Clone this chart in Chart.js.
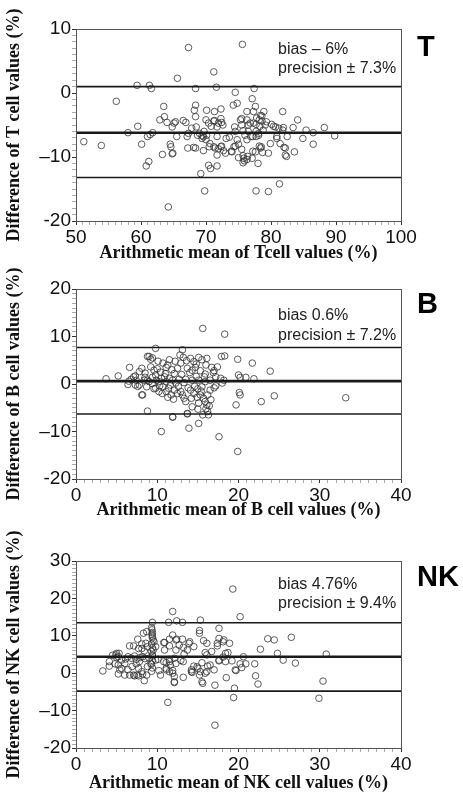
<!DOCTYPE html>
<html>
<head>
<meta charset="utf-8">
<script src="https://cdn.jsdelivr.net/npm/chart.js@4.4.1/dist/chart.umd.min.js"></script>
<style>
html, body { margin: 0; padding: 0; background: #fff; }
#wrap { position: relative; width: 463px; height: 799px; overflow: hidden; }
canvas { position: absolute; left: 0; }
</style>
</head>
<body>
<div id="wrap">
  <canvas id="chartT" width="463" height="266" style="top:0px"></canvas>
  <canvas id="chartB" width="463" height="258" style="top:266px"></canvas>
  <canvas id="chartNK" width="463" height="275" style="top:524px"></canvas>
</div>
<script>
// ---- data: [arithmetic mean, difference] ----
const tPairs = [
  [67.3,7.1],[75.6,7.6],[71.2,3.3],[65.6,2.3],[59.4,1.2],[61.3,1.2],[61.6,0.7],[68.4,0.7],[71.6,0.9],[77.4,0.7],
  [74.5,0.1],[56.2,-1.3],[77.1,-0.9],[74.8,-1.6],[74.2,-1.9],[63.5,-2.1],[68.4,-1.9],[68.2,-2.7],[70.1,-2.7],[71.3,-2.9],
  [72.3,-2.5],[76.3,-2.9],[77.3,-2.9],[77.6,-2.1],[78.9,-2.9],[81.8,-2.9],[63.6,-3.7],[62.9,-4.2],[64.0,-4.6],[65.1,-4.7],
  [66.5,-4.3],[66.9,-4.6],[59.5,-5.2],[64.8,-5.3],[68.5,-5.3],[70.0,-4.2],[71.3,-4.3],[72.3,-4.0],[70.8,-5.2],[71.9,-4.7],
  [72.6,-5.0],[74.4,-5.3],[75.3,-4.2],[75.5,-5.0],[76.3,-4.2],[76.5,-5.0],[77.3,-4.7],[77.8,-3.9],[78.2,-4.2],[78.6,-3.6],
  [78.3,-5.2],[79.3,-4.5],[80.4,-5.2],[81.2,-5.5],[81.9,-5.4],[83.4,-5.4],[84.1,-4.2],[58.0,-6.2],[61.0,-6.8],[61.4,-6.5],
  [61.8,-6.2],[51.2,-7.6],[53.9,-8.2],[60.1,-8.0],[64.5,-8.0],[64.6,-8.4],[67.1,-6.8],[67.2,-8.6],[68.4,-8.6],[69.0,-6.3],
  [69.4,-6.7],[69.7,-6.0],[70.0,-7.3],[70.1,-6.6],[70.6,-7.9],[69.6,-9.0],[70.5,-8.4],[71.4,-8.6],[71.7,-6.8],[72.3,-8.4],
  [72.7,-9.0],[73.1,-7.1],[73.6,-6.9],[74.0,-9.2],[74.3,-8.4],[74.8,-7.3],[74.5,-6.0],[75.7,-5.9],[76.0,-6.6],[76.3,-7.3],
  [76.5,-6.0],[76.9,-6.8],[75.7,-9.8],[76.4,-9.9],[75.7,-10.9],[76.3,-10.4],[77.1,-10.2],[78.0,-11.0],[77.6,-9.2],[78.2,-8.3],
  [78.4,-8.6],[78.7,-9.3],[77.7,-6.8],[78.1,-6.3],[78.8,-5.8],[79.6,-9.4],[79.9,-7.9],[80.9,-6.8],[81.4,-7.9],[82.0,-8.5],
  [82.5,-6.8],[82.4,-9.9],[82.2,-9.7],[83.6,-9.2],[60.8,-11.4],[61.2,-10.7],[63.3,-9.6],[64.8,-9.5],[70.4,-11.3],[70.7,-11.8],
  [71.7,-11.4],[69.2,-12.6],[69.8,-15.3],[77.7,-15.3],[79.6,-15.4],[81.3,-14.2],[64.2,-17.8],[65.3,-4.5],[68.4,-3.7],[70.4,-4.7],
  [71.2,-4.4],[72.4,-4.6],[71.7,-5.3],[75.5,-4.0],[76.8,-4.7],[77.7,-4.9],[78.4,-3.5],[78.6,-4.4],[79.1,-5.0],[80.1,-4.9],
  [80.7,-5.3],[81.8,-5.8],[84.9,-7.1],[85.4,-5.8],[86.5,-8.0],[86.5,-6.2],[88.2,-5.4],[89.8,-6.7],[68.7,-6.6],[69.6,-6.8],
  [69.4,-7.1],[67.8,-5.5],[67.3,-6.3],[65.5,-6.8],[68.1,-8.5],[71.2,-8.4],[71.9,-8.7],[72.4,-8.3],[71.7,-9.7],[73.0,-9.4],
  [73.9,-9.1],[74.5,-8.3],[75.0,-8.0],[75.5,-8.8],[77.2,-6.8],[77.7,-6.0],[78.1,-6.6],[78.5,-8.4],[77.2,-9.1],[80.9,-7.1],
  [82.2,-8.6],[75.0,-10.1],[75.8,-10.2],[75.9,-10.6],[64.9,-9.4]
];
const tLimits = [1.0, -6.2, -13.2];   // upper limit, bias, lower limit
const tXRange = [50, 100];
const tYRange = [-20, 10];
const tNote = ['bias \u2013 6%', 'precision \u00b1 7.3%'];

const bPairs = [
  [15.6,11.7],[18.3,10.5],[9.8,7.5],[13.1,7.2],[3.7,1.1],[5.2,1.7],[6.6,3.5],[8.8,5.8],[9.2,5.2],[33.2,-2.9],
  [24.4,-2.5],[23.9,2.7],[21.7,4.4],[19.9,5.2],[20.0,1.9],[20.2,1.4],[20.9,1.4],[21.9,1.1],[20.1,-1.8],[20.2,-2.3],
  [22.8,-3.7],[19.7,-4.4],[17.9,5.8],[18.3,5.9],[17.6,-11.1],[19.9,-14.2],[10.5,-10.0],[13.9,-9.3],[15.1,-8.3],[11.9,-7.0],
  [8.8,-5.7],[8.2,-2.3],[13.7,-6.3],[15.0,-5.3],[15.6,-6.5],[16.4,-4.6],[9.0,5.8],[9.4,5.5],[8.1,3.3],[7.3,1.7],
  [7.8,2.6],[8.5,2.3],[8.8,0.8],[6.4,-0.1],[7.3,-0.2],[8.1,-2.3],[9.2,3.6],[9.6,2.9],[9.8,1.9],[9.4,1.4],
  [10.7,4.4],[11.1,3.5],[11.5,5.1],[11.0,2.2],[11.5,1.2],[12.1,2.2],[12.5,3.3],[12.8,6.1],[12.9,4.4],[13.6,4.9],
  [14.1,5.4],[14.5,4.7],[15.1,5.6],[15.5,5.1],[16.1,5.4],[13.7,3.3],[14.3,2.9],[14.7,3.5],[15.3,2.8],[15.9,2.1],
  [16.7,3.5],[16.9,2.4],[17.2,1.5],[17.8,1.2],[18.2,0.8],[16.5,0.8],[15.9,0.5],[15.1,0.8],[14.3,0.8],[13.5,1.0],
  [12.7,1.0],[11.9,0.8],[11.1,0.5],[10.2,0.5],[9.4,0.1],[10.7,-0.6],[11.4,-0.9],[12.1,-1.3],[12.5,-2.0],[13.1,-2.3],
  [13.3,-3.0],[13.5,-3.7],[14.1,-1.3],[14.5,-2.0],[14.9,-2.8],[15.3,-2.3],[15.7,-3.0],[15.9,-3.7],[16.1,-4.4],[15.5,-0.6],
  [16.5,-1.3],[17.2,-0.4],[14.3,-4.8],[13.7,-6.2],[11.9,-6.9],[7.4,0.8],[6.8,1.0],[8.4,0.8],[9.0,0.5],[7.8,-0.2],
  [8.7,-0.6],[9.8,-0.9],[10.2,-1.6],[11.1,-1.6],[11.7,-2.3],[10.5,1.2],[16.3,-6.5],[10.0,3.2],[10.4,2.5],[10.9,1.5],
  [11.3,4.0],[11.8,3.0],[12.3,0.2],[12.6,-0.5],[13.0,2.0],[13.3,0.3],[13.8,-0.8],[14.0,2.4],[14.6,-0.5],[14.8,1.6],
  [15.4,-1.5],[15.8,1.5],[16.2,-2.3],[16.6,-3.3],[17.0,2.8],[17.4,3.6],[12.0,-3.2],[11.3,-2.8],[10.6,-2.0],[9.6,-1.0],
  [10.1,4.8],[12.2,4.8],[13.2,5.6],[14.8,4.2],[16.0,4.0],[9.9,0.8],[8.5,1.4],[7.1,1.5],[6.5,0.6],[7.6,-0.5],
  [12.9,-1.6],[14.2,-3.0],[15.0,-1.0],[16.0,-5.2],[17.0,-0.8],[18.0,0.2],[16.2,-5.8],[15.1,-4.0],[10.3,-0.4],[11.6,-0.2]
];
const bLimits = [7.7, 0.6, -6.3];
const bXRange = [0, 40];
const bYRange = [-20, 20];
const bNote = ['bias 0.6%', 'precision \u00b1 7.2%'];

const nkPairs = [
  [19.3,22.5],[11.9,16.5],[20.2,15.1],[15.3,14.2],[12.4,14.0],[13.1,13.6],[9.4,13.6],[11.4,13.6],[17.6,12.0],[15.2,11.4],
  [15.2,10.7],[8.3,10.7],[8.7,11.1],[9.35,11.6],[9.35,10.4],[9.4,9.5],[9.6,8.4],[11.9,10.2],[12.4,9.1],[13.1,9.1],
  [15.7,8.7],[16.1,8.0],[18.2,8.9],[23.6,9.2],[24.4,8.9],[26.5,9.6],[22.7,6.4],[24.8,5.3],[25.5,3.5],[27.0,2.7],
  [30.8,5.1],[30.4,-2.1],[29.9,-6.7],[7.6,9.1],[6.6,7.3],[7.7,6.6],[8.1,7.8],[8.4,5.9],[8.8,7.1],[9.8,7.1],
  [10.8,8.2],[11.5,7.3],[12.3,6.2],[13.2,6.9],[13.9,8.0],[14.5,7.1],[13.7,6.2],[15.9,5.5],[16.7,5.8],[17.4,7.3],
  [18.4,5.3],[19.2,3.3],[20.6,4.4],[20.9,2.5],[22.0,2.5],[22.1,-0.7],[22.4,-2.9],[19.5,-4.0],[19.4,-6.5],[18.5,-1.2],
  [15.6,-2.7],[17.1,-3.2],[12.1,-2.5],[11.3,-7.8],[17.1,-13.9],[3.3,0.6],[4.1,3.1],[4.1,1.9],[4.8,2.5],[5.3,5.3],
  [5.0,4.2],[5.6,3.5],[6.0,2.6],[5.4,0.9],[5.2,-0.2],[5.6,1.3],[6.0,-0.5],[6.6,-0.5],[7.1,-0.5],[7.5,-0.5],
  [6.4,0.9],[6.9,1.8],[7.4,2.5],[7.8,3.1],[7.7,1.3],[8.1,0.4],[8.4,-2.0],[8.7,-0.5],[8.8,1.8],[9.2,2.6],
  [9.0,4.0],[9.4,4.9],[9.5,6.2],[8.2,4.4],[7.2,4.6],[6.4,4.4],[9.8,3.5],[10.2,0.7],[10.4,-0.5],[11.1,1.3],
  [11.5,0.4],[11.9,0.0],[12.1,-0.9],[11.1,2.8],[11.5,3.1],[12.3,2.6],[12.9,3.4],[13.2,3.1],[13.3,5.1],[12.1,4.0],
  [14.2,0.4],[14.5,1.9],[15.0,1.3],[15.3,0.4],[15.2,-0.5],[15.9,0.0],[16.5,2.2],[16.1,4.9],[17.6,3.5],[18.4,3.1],
  [19.6,0.9],[20.2,2.5],[18.9,8.0],[7.1,7.3],[8.1,6.6],[8.6,8.0],[10.9,8.2],[11.5,9.1],[12.3,8.9],[12.7,7.5],
  [14.0,8.4],[10.9,6.2],[17.4,8.0],[18.1,8.4],[17.6,9.3],[5.0,5.3],[5.2,2.2],[7.2,-0.7],[7.7,-0.7],[8.2,-0.2],
  [10.1,3.7],[10.8,3.1],[11.5,3.7],[11.6,2.2],[11.1,0.9],[11.9,0.7],[12.1,-2.3],[13.2,-1.1],[14.2,0.9],[14.3,0.2],
  [14.9,1.7],[15.5,2.8],[16.2,1.9],[16.1,0.4],[17.0,0.9],[17.6,3.3],[18.1,4.3],[18.7,5.5],[15.5,-2.3],[20.4,1.5],
  [19.7,0.7],[9.3,12.2],[9.4,10.9],[9.4,9.9],[9.5,8.9],[9.3,7.8],[9.4,6.8],[9.3,5.8],[9.4,4.6],[9.4,3.4],
  [9.3,2.4],[9.4,1.4],[9.3,0.5],[4.5,4.8],[4.9,4.9],[5.2,4.4],[6.1,3.8],[6.8,4.0],[7.4,3.7],[7.9,4.2],[8.5,3.9]
];
const nkLimits = [13.5, 4.4, -4.8];
const nkXRange = [0, 40];
const nkYRange = [-20, 30];
const nkNote = ['bias 4.76%', 'precision \u00b1 9.4%'];

// ---- drawing ----
const sansFont = '"Liberation Sans", Arial, sans-serif';
const serifFont = '"Liberation Serif", "Times New Roman", serif';

function tickText(v) {
  if (v % 10 !== 0) return '';
  if (v < 0) return (v <= -20 ? '-' : '\u2013') + (-v);
  return String(v);
}

const panelDecor = {
  id: 'panelDecor',
  afterDraw(chart, args, opts) {
    const { ctx, chartArea: a } = chart;
    ctx.save();
    ctx.strokeStyle = '#555';
    ctx.lineWidth = 1;
    ctx.strokeRect(Math.round(a.left) + 0.5, Math.round(a.top) + 0.5,
      Math.round(a.right - a.left), Math.round(a.bottom - a.top));
    ctx.fillStyle = '#222';
    ctx.textBaseline = 'middle';
    ctx.font = '16px ' + sansFont;
    ctx.fillText(opts.note[0], a.left + 202, a.top + opts.noteY[0]);
    ctx.fillText(opts.note[1], a.left + 202, a.top + opts.noteY[1]);
    ctx.fillStyle = '#000';
    ctx.font = 'bold 29px ' + sansFont;
    ctx.fillText(opts.letter, a.right + 16, a.top + opts.letterY);
    ctx.restore();
  }
};

function axis(range, title, titlePad, fitFn) {
  return {
    type: 'linear',
    min: range[0],
    max: range[1],
    border: { display: true, color: '#555', width: 1 },
    grid: {
      drawOnChartArea: false,
      drawTicks: true,
      tickLength: 4,
      tickColor: c => (c.tick && c.tick.value % 10 === 0) ? '#333' : '#aaa'
    },
    ticks: {
      stepSize: 1,
      autoSkip: false,
      maxRotation: 0,
      padding: 1,
      color: '#111',
      font: { family: sansFont, size: 19 },
      callback: v => tickText(v)
    },
    title: {
      display: true,
      text: title,
      color: '#111',
      padding: titlePad,
      font: { family: serifFont, size: 18, weight: 'bold' }
    },
    afterFit: fitFn
  };
}

function makePanel(id, pairs, limits, xRange, yRange, xTitle, yTitle, note, letter, geo) {
  const lineSets = limits.map((v, i) => ({
    type: 'line',
    data: [{ x: xRange[0], y: v }, { x: xRange[1], y: v }],
    borderColor: '#1a1a1a',
    borderWidth: i === 1 ? 2.6 : 1.6,
    pointRadius: 0,
    order: 0
  }));
  new Chart(document.getElementById(id), {
    type: 'scatter',
    data: {
      datasets: [{
        data: pairs.map(p => ({ x: p[0], y: p[1] })),
        pointRadius: 3.3,
        pointBorderWidth: 0.9,
        borderColor: 'rgba(55,55,55,0.9)',
        backgroundColor: 'rgba(0,0,0,0)',
        order: 1
      }].concat(lineSets)
    },
    options: {
      responsive: false,
      animation: false,
      layout: { padding: { top: geo.top, right: 62, bottom: 0, left: 0 } },
      plugins: {
        legend: { display: false },
        tooltip: { enabled: false },
        panelDecor: { note: note, noteY: geo.noteY, letter: letter, letterY: geo.letterY }
      },
      scales: {
        x: Object.assign(axis(xRange, xTitle, { top: 0, bottom: geo.xTitlePad }, s => { s.height = geo.xHeight; }), { position: 'bottom' }),
        y: Object.assign(axis(yRange, yTitle, { top: 4, bottom: 0 }, s => { s.width = 76; }), { position: 'left' })
      }
    },
    plugins: [panelDecor]
  });
}

makePanel('chartT', tPairs, tLimits, tXRange, tYRange,
  'Arithmetic mean of Tcell values (%)', 'Difference of T cell values (%)', tNote, 'T',
  { top: 29, xHeight: 45, xTitlePad: 2, noteY: [21, 40], letterY: 19 });
makePanel('chartB', bPairs, bLimits, bXRange, bYRange,
  'Arithmetic mean of B cell values (%)', 'Difference of B cell values (%)', bNote, 'B',
  { top: 23, xHeight: 45, xTitlePad: 3, noteY: [27, 47], letterY: 16 });
makePanel('chartNK', nkPairs, nkLimits, nkXRange, nkYRange,
  'Arithmetic mean of NK cell values (%)', 'Difference of NK cell values (%)', nkNote, 'NK',
  { top: 37, xHeight: 51, xTitlePad: 5, noteY: [24, 43], letterY: 17 });
</script>
</body>
</html>
